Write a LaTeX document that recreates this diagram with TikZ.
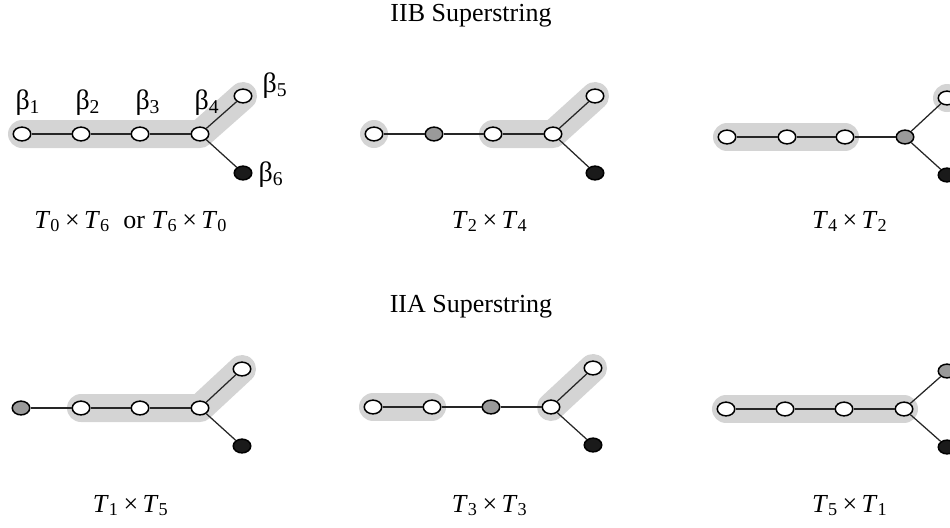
\documentclass[tikz,border=0pt]{standalone}
\usepackage{fontspec}
\setmainfont{Liberation Serif}
\usetikzlibrary{shapes.geometric,backgrounds}
\definecolor{shade}{HTML}{D4D4D4}
\definecolor{midgray}{HTML}{9A9A9A}
\definecolor{nearblack}{HTML}{1A1A1A}
\tikzset{
  nd/.style={ellipse, draw=black, line width=0.6pt, minimum width=7pt, minimum height=5.5pt, inner sep=0pt},
  wn/.style={nd, fill=white},
  gn/.style={nd, fill=midgray},
  bn/.style={nd, fill=nearblack},
  band/.style={line width=11.2pt, line cap=round, line join=round, draw=shade},
  blob/.style={fill=shade},
  edge/.style={line width=0.5pt, draw=black!85},
  lbl/.style={inner sep=0pt, font=\fontsize{10.4}{12}\selectfont},
  blbl/.style={inner sep=0pt, anchor=base west, font=\fontsize{11.2}{13}\selectfont}
}
\begin{document}
\begin{tikzpicture}[x=0.4pt,y=-0.4pt]
\useasboundingbox (0,0) rectangle (950,527);
\clip (0,0) rectangle (950,527);
% titles
\node[lbl, anchor=base] (t1) at (471,21) {IIB Superstring};
\node[lbl, anchor=base] (t2) at (471,312) {IIA Superstring};
% ---------- panel 1
\node[wn] (a1) at (22,134) {};
\node[wn] (a2) at (81,134) {};
\node[wn] (a3) at (140,134) {};
\node[wn] (a4) at (200,134) {};
\node[wn] (a5) at (243,96) {};
\node[bn] (a6) at (243,173) {};
% ---------- panel 2
\node[wn] (b1) at (374,134) {};
\node[gn] (b2) at (434,134) {};
\node[wn] (b3) at (493,134) {};
\node[wn] (b4) at (553,134) {};
\node[wn] (b5) at (595,96) {};
\node[bn] (b6) at (595,173) {};
% ---------- panel 3
\node[wn] (c1) at (727,137) {};
\node[wn] (c2) at (787,137) {};
\node[wn] (c3) at (845,137) {};
\node[gn] (c4) at (905,137) {};
\node[wn] (c5) at (947,98) {};
\node[bn] (c6) at (947,175) {};
% ---------- panel 4
\node[gn] (d1) at (21,408) {};
\node[wn] (d2) at (81,408) {};
\node[wn] (d3) at (140,408) {};
\node[wn] (d4) at (200,408) {};
\node[wn] (d5) at (242,369) {};
\node[bn] (d6) at (242,446) {};
% ---------- panel 5
\node[wn] (e1) at (373,407) {};
\node[wn] (e2) at (432,407) {};
\node[gn] (e3) at (491,407) {};
\node[wn] (e4) at (551,407) {};
\node[wn] (e5) at (593,368) {};
\node[bn] (e6) at (593,445) {};
% ---------- panel 6
\node[wn] (f1) at (726,409) {};
\node[wn] (f2) at (785,409) {};
\node[wn] (f3) at (844,409) {};
\node[wn] (f4) at (904,409) {};
\node[gn] (f5) at (947,371) {};
\node[bn] (f6) at (947,447) {};
% edges
\foreach \p in {a,b,c,d,e,f}{
  \draw[edge] (\p1) -- (\p2);
  \draw[edge] (\p2) -- (\p3);
  \draw[edge] (\p3) -- (\p4);
  \draw[edge] (\p4) -- (\p5);
  \draw[edge] (\p4) -- (\p6);
}
% shading
\begin{scope}[on background layer]
  \draw[band] (a1.center) -- (a4.center) -- (a5.center);
  \fill[blob] (b1.center) circle[radius=14];
  \draw[band] (b3.center) -- (b4.center) -- (b5.center);
  \draw[band] (c1.center) -- (c3.center);
  \fill[blob] (c5.center) circle[radius=14];
  \draw[band] (d2.center) -- (d4.center) -- (d5.center);
  \draw[band] (e1.center) -- (e2.center);
  \draw[band] (e4.center) -- (e5.center);
  \draw[band] (f1.center) -- (f4.center);
\end{scope}
% beta labels
\node[blbl] (l1) at (15,109) {β\textsubscript{1}};
\node[blbl] (l2) at (75,109) {β\textsubscript{2}};
\node[blbl] (l3) at (135,109) {β\textsubscript{3}};
\node[blbl] (l4) at (194,109) {β\textsubscript{4}};
\node[blbl] (l5) at (262,92) {β\textsubscript{5}};
\node[blbl] (l6) at (258,181) {β\textsubscript{6}};
% group labels
\node[lbl, anchor=base] (g1) at (131,228) {\textit{T}\textsubscript{0}\,×\,\textit{T}\textsubscript{6}\enspace or \textit{T}\textsubscript{6}\,×\,\textit{T}\textsubscript{0}};
\node[lbl, anchor=base] (g2) at (490,228) {\textit{T}\textsubscript{2}\,×\,\textit{T}\textsubscript{4}};
\node[lbl, anchor=base] (g3) at (850,228) {\textit{T}\textsubscript{4}\,×\,\textit{T}\textsubscript{2}};
\node[lbl, anchor=base] (g4) at (131,512) {\textit{T}\textsubscript{1}\,×\,\textit{T}\textsubscript{5}};
\node[lbl, anchor=base] (g5) at (490,512) {\textit{T}\textsubscript{3}\,×\,\textit{T}\textsubscript{3}};
\node[lbl, anchor=base] (g6) at (850,512) {\textit{T}\textsubscript{5}\,×\,\textit{T}\textsubscript{1}};
\end{tikzpicture}
\end{document}
